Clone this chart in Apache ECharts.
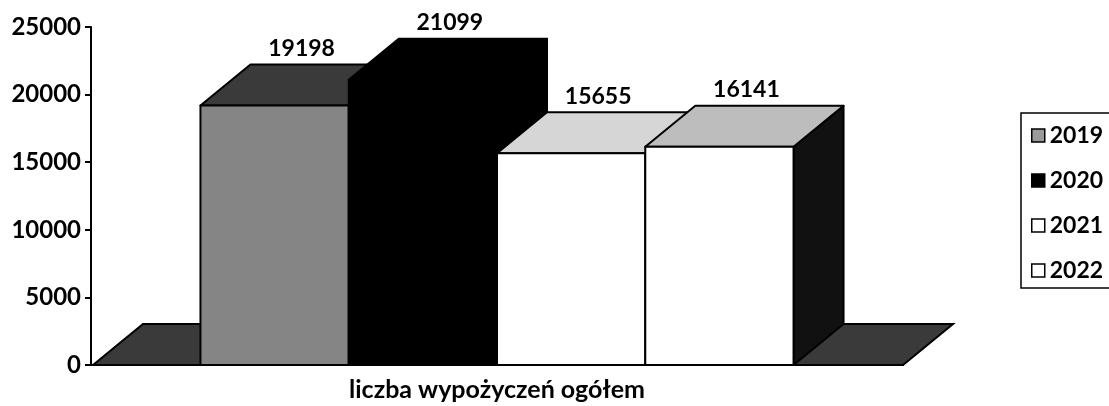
<!DOCTYPE html>
<html>
<head>
<meta charset="utf-8">
<script src="https://cdn.jsdelivr.net/npm/echarts@6/dist/echarts.min.js"></script>
<style>html,body{margin:0;padding:0;background:#fff;}#c{width:1109px;height:406px;}</style>
</head>
<body>
<div id="c"></div>
<script>
// ---- data ----
var categories = ['liczba wypożyczeń ogółem'];
var years = ['2019', '2020', '2021', '2022'];
var values = [19198, 21099, 15655, 16141];
var yTicks = [0, 5000, 10000, 15000, 20000, 25000];

// ---- style ----
var FONT = 'Lato';
var DX = 50, DY = -41;            // 3D depth offset (px)
var BAR_RATIO = 0.1826;           // bar width as share of category width
var faceStyles = [
  {front: '#858585', top: '#3a3a3a', side: '#2a2a2a', legend: '#9a9a9a'},
  {front: '#000000', top: '#000000', side: '#000000', legend: '#000000'},
  {front: '#ffffff', top: '#d6d6d6', side: '#1a1a1a', legend: '#ffffff'},
  {front: '#ffffff', top: '#bdbdbd', side: '#111111', legend: '#ffffff'}
];

function makeRender(i) {
  var fs = faceStyles[i];
  return function (params, api) {
    var val = api.value(1);
    var base = api.coord([api.value(0), 0]);
    var top = api.coord([api.value(0), val]);
    var catW = api.size([1, 0])[0];
    var bw = catW * BAR_RATIO;
    var x0 = base[0] - 2 * bw + i * bw;
    var x1 = x0 + bw;
    var y0 = base[1], y1 = top[1];
    var line = {stroke: '#000', lineWidth: 2, lineJoin: 'round'};
    return {
      type: 'group',
      children: [
        {type: 'polygon', shape: {points: [[x1, y1], [x1 + DX, y1 + DY], [x1 + DX, y0 + DY], [x1, y0]]},
         style: Object.assign({fill: fs.side}, line)},
        {type: 'polygon', shape: {points: [[x0, y1], [x0 + DX, y1 + DY], [x1 + DX, y1 + DY], [x1, y1]]},
         style: Object.assign({fill: fs.top}, line)},
        {type: 'rect', shape: {x: x0, y: y1, width: bw, height: y0 - y1},
         style: Object.assign({fill: fs.front}, line)},
        {type: 'text', x: x0 + bw / 2 + 27, y: y1 - 57,
         style: {text: String(val), fill: '#000', font: 'bold 23px ' + FONT, align: 'center', verticalAlign: 'middle'}}
      ]
    };
  };
}

function floorRender(params, api) {
  var cs = params.coordSys;
  var y0 = api.coord([0, 0])[1];
  var xa = cs.x + 2, xb = cs.x + cs.width;
  return {
    type: 'polygon',
    shape: {points: [[xa, y0], [xa + DX, y0 + DY], [xb + DX, y0 + DY], [xb, y0]]},
    style: {fill: '#3a3a3a', stroke: '#000', lineWidth: 2}
  };
}

var series = [{
  type: 'custom', name: 'floor', renderItem: floorRender, data: [[0, 0]], silent: true
}];
years.forEach(function (y, i) {
  series.push({
    type: 'custom', name: y, renderItem: makeRender(i),
    itemStyle: {color: faceStyles[i].legend},
    data: [[0, values[i]]]
  });
});

var chart = echarts.init(document.getElementById('c'), null, {renderer: 'canvas'});
chart.setOption({
  animation: false,
  backgroundColor: '#fff',
  grid: {left: 91, right: 206, top: 27, bottom: 41},
  xAxis: {
    type: 'category', data: categories,
    axisLine: {show: true, lineStyle: {color: '#000', width: 2}},
    axisTick: {show: false},
    axisLabel: {color: '#000', fontFamily: FONT, fontWeight: 'bold', fontSize: 25, margin: 12}
  },
  yAxis: {
    type: 'value', min: yTicks[0], max: yTicks[yTicks.length - 1], interval: yTicks[1] - yTicks[0],
    axisLine: {show: true, lineStyle: {color: '#000', width: 2}},
    axisTick: {show: true, length: 6, lineStyle: {color: '#000', width: 2}},
    splitLine: {show: false},
    axisLabel: {color: '#000', fontFamily: FONT, fontWeight: 'bold', fontSize: 24, margin: 10,
                formatter: function (v) { return String(v); }}
  },
  legend: {
    orient: 'vertical', left: 1021, top: 113,
    itemWidth: 13, itemHeight: 13, itemGap: 22,
    padding: [11, 60, 6, 10],
    borderColor: '#000', borderWidth: 1.5,
    textStyle: {color: '#000', fontFamily: FONT, fontWeight: 'bold', fontSize: 23},
    data: years.map(function (y, i) {
      return {name: y, icon: 'rect', itemStyle: {color: faceStyles[i].legend, borderColor: '#000', borderWidth: 1.5}};
    })
  },
  series: series
});
</script>
</body>
</html>
